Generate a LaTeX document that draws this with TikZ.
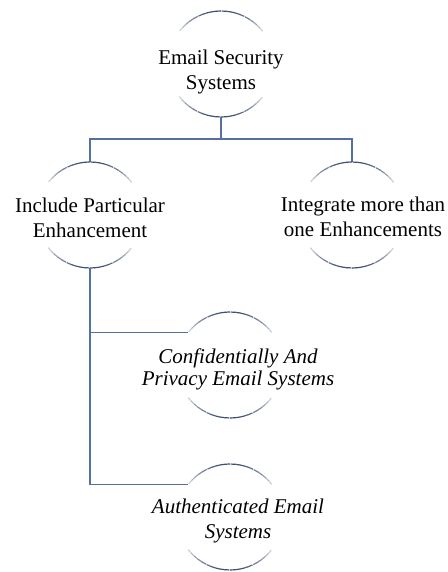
\documentclass[tikz,border=0pt]{standalone}
\usepackage{fontspec}
\setmainfont{Liberation Serif}
\definecolor{linkblue}{RGB}{84,112,160}
\definecolor{arcblue}{RGB}{58,76,110}
\tikzset{
  ring/.style={circle, draw=none, minimum size=106pt, inner sep=0pt, outer sep=0pt},
  caption/.style={align=center, font=\fontsize{21}{25}\selectfont, inner sep=0pt},
  slanted/.style={font=\fontsize{21}{#1}\selectfont\itshape},
  link/.style={draw=linkblue, line width=1.4pt},
}
% arc on the border of a ring, darkest in its middle and fading to its ends
\newcommand\fadearc[3]{%
  \foreach \k in {0,...,19}{
    \pgfmathsetmacro\aa{#2+(#3-#2)*\k/20}
    \pgfmathsetmacro\ab{#2+(#3-#2)*(\k+1)/20}
    \pgfmathsetmacro\op{0.2+0.8*sin(180*(\k+0.5)/20)}
    \draw[arcblue, line width=1.2pt, opacity=\op] (#1.\aa) arc[start angle=\aa, end angle=\ab, radius=53pt];
  }}
\newcommand\ringarcs[1]{\fadearc{#1}{38}{142}\fadearc{#1}{218}{322}}
\begin{document}
\begin{tikzpicture}[x=1pt,y=1pt]
\useasboundingbox (0,0) rectangle (447,572);

% rings
\node[ring] (top)   at (221,508) {};
\node[ring] (left)  at (90,357)  {};
\node[ring] (right) at (352,357) {};
\node[ring] (conf)  at (230,207) {};
\node[ring] (auth)  at (230,55)  {};

% texts
\node[caption] (ttop)   at (221,500.5) {Email Security\\Systems};
\node[caption] (tleft)  at (90,354)  {Include Particular\\Enhancement};
\node[caption] (tright) at (363,355) {Integrate more than\\one Enhancements};
\node[caption, slanted=22] (tconf) at (238,203) {Confidentially And\\Privacy Email Systems};
\node[caption, slanted=25] (tauth) at (238,51) {Authenticated Email\\Systems};

\ringarcs{top}
\ringarcs{left}
\ringarcs{right}
\ringarcs{conf}
\ringarcs{auth}

% connectors
\draw[link, line width=1.8pt] (top.south) -- ++(0,-22) coordinate (fork);
\draw[link] (left.north) |- (fork) -| (right.north);
\draw[link] (left.south) -- (left.south |- auth.142) -- (auth.142);
\draw[link] (left.south |- conf.142) -- (conf.142);
\end{tikzpicture}
\end{document}
